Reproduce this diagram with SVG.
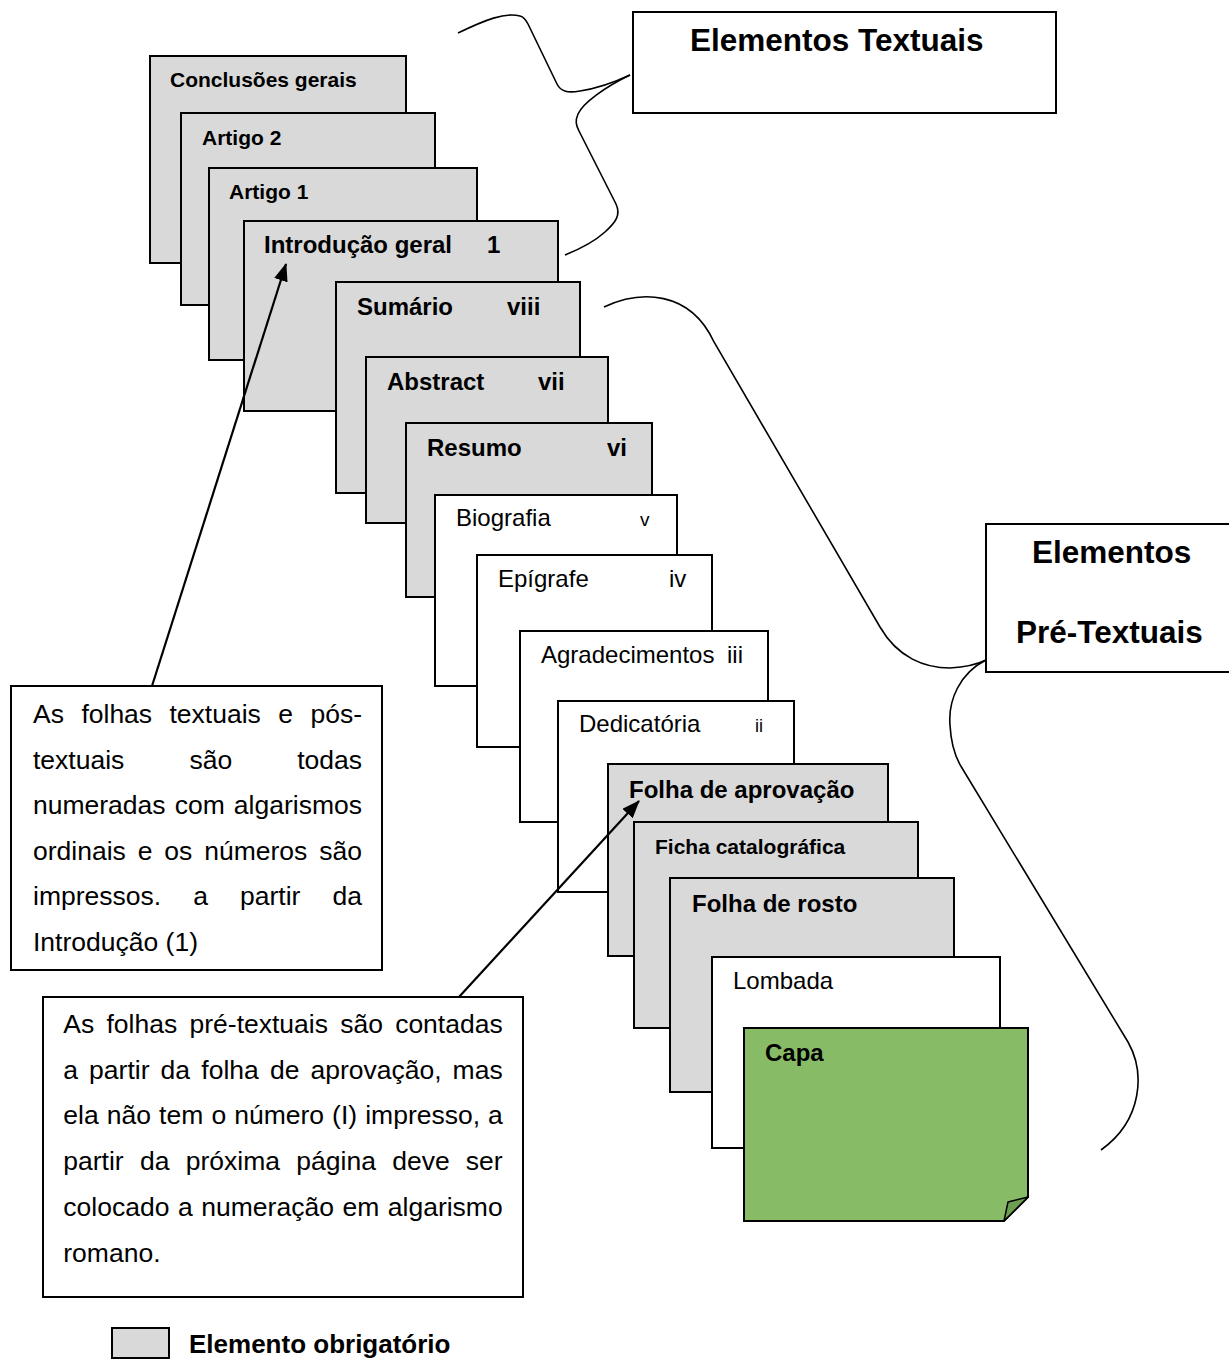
<svg xmlns="http://www.w3.org/2000/svg" width="1229" height="1359" viewBox="0 0 1229 1359">
<style>
text{font-family:"Liberation Sans",Arial,sans-serif;fill:#000}
.pg{stroke:#000;stroke-width:2}
.g{fill:#d9d9d9}
.w{fill:#fff}
.b{font-weight:bold}
.s21{font-size:21px}
.s24{font-size:24px}
.s26{font-size:26.5px}
.h{font-size:31.5px;font-weight:bold}
.br{fill:none;stroke:#000;stroke-width:1.6}
.ar{fill:none;stroke:#000;stroke-width:2.2}
</style>
<defs>
<marker id="ah" markerUnits="userSpaceOnUse" markerWidth="18" markerHeight="14" refX="17" refY="7" orient="auto">
<path d="M0,0 L18,7 L0,14 z" fill="#000"/>
</marker>
</defs>
<rect width="1229" height="1359" fill="#fff"/>

<g id="conclusoes"><rect class="pg g" x="150" y="56" width="256" height="207"/><text class="b s21" x="170" y="87">Conclusões gerais</text></g>
<g id="artigo2"><rect class="pg g" x="181" y="113" width="254" height="192"/><text class="b s21" x="202" y="145">Artigo 2</text></g>
<g id="artigo1"><rect class="pg g" x="209" y="168" width="268" height="192"/><text class="b s21" x="229" y="199">Artigo 1</text></g>
<g id="introducao"><rect class="pg g" x="244" y="221" width="314" height="190"/><text class="b s24" x="264" y="253">Introdução geral</text><text class="b s24" x="487" y="253">1</text></g>
<g id="sumario"><rect class="pg g" x="336" y="282" width="244" height="211"/><text class="b s24" x="357" y="315">Sumário</text><text class="b s24" x="507" y="315">viii</text></g>
<g id="abstract"><rect class="pg g" x="366" y="357" width="242" height="166"/><text class="b s24" x="387" y="390">Abstract</text><text class="b s24" x="538" y="390">vii</text></g>
<g id="resumo"><rect class="pg g" x="406" y="423" width="246" height="174"/><text class="b s24" x="427" y="456">Resumo</text><text class="b s24" x="607" y="456">vi</text></g>
<g id="biografia"><rect class="pg w" x="435" y="495" width="242" height="191"/><text class="s24" x="456" y="526">Biografia</text><text x="640" y="526" style="font-size:19px">v</text></g>
<g id="epigrafe"><rect class="pg w" x="477" y="555" width="235" height="192"/><text class="s24" x="498" y="587">Epígrafe</text><text class="s24" x="669" y="587">iv</text></g>
<g id="agradecimentos"><rect class="pg w" x="520" y="631" width="248" height="191"/><text class="s24" x="541" y="663">Agradecimentos</text><text class="s24" x="727" y="663">iii</text></g>
<g id="dedicatoria"><rect class="pg w" x="558" y="701" width="236" height="191"/><text class="s24" x="579" y="732">Dedicatória</text><text x="755" y="732" style="font-size:18px">ii</text></g>
<g id="aprovacao"><rect class="pg g" x="608" y="764" width="280" height="192"/><text class="b s24" x="629" y="798">Folha de aprovação</text></g>
<g id="ficha"><rect class="pg g" x="634" y="822" width="284" height="206"/><text class="b s21" x="655" y="854">Ficha catalográfica</text></g>
<g id="rosto"><rect class="pg g" x="670" y="878" width="284" height="214"/><text class="b s24" x="692" y="912">Folha de rosto</text></g>
<g id="lombada"><rect class="pg w" x="712" y="957" width="288" height="191"/><text class="s24" x="733" y="989">Lombada</text></g>
<g id="capa"><path class="pg" fill="#87bb66" d="M744,1028 H1028 V1197 L1004,1221 H744 Z"/><path d="M1028,1197 L1008,1202 L1004,1221 Z" fill="#6e9e52" stroke="#000" stroke-width="1.5" stroke-linejoin="round"/><text class="b s24" x="765" y="1061">Capa</text></g>

<g id="elementos-textuais"><rect class="pg w" x="633" y="12" width="423" height="101"/><text class="h" x="690" y="51">Elementos Textuais</text></g>
<g id="elementos-pretextuais"><rect class="pg w" x="986" y="524" width="260" height="148"/><text class="h" x="1032" y="563">Elementos</text><text class="h" x="1016" y="643">Pré-Textuais</text></g>

<g id="nota-textuais"><rect class="pg w" x="11" y="686" width="371" height="284"/>
<g class="s26">
<text x="33" y="723">As</text><text x="81.4" y="723">folhas</text><text x="169.5" y="723">textuais</text><text x="278.3" y="723">e</text><text x="362" y="723" text-anchor="end">pós-</text>
<text x="33" y="769">textuais</text><text x="189.4" y="769">são</text><text x="362" y="769" text-anchor="end">todas</text>
<text x="33" y="814">numeradas</text><text x="174.7" y="814">com</text><text x="362" y="814" text-anchor="end">algarismos</text>
<text x="33" y="860">ordinais</text><text x="137.7" y="860">e</text><text x="164.3" y="860">os</text><text x="204.2" y="860">números</text><text x="362" y="860" text-anchor="end">são</text>
<text x="33" y="905">impressos.</text><text x="193.2" y="905">a</text><text x="240" y="905">partir</text><text x="362" y="905" text-anchor="end">da</text>
<text x="33" y="951">Introdução (1)</text>
</g></g>

<g id="nota-pretextuais"><rect class="pg w" x="43" y="997" width="480" height="300"/>
<g class="s26">
<text x="63.3" y="1033">As</text><text x="106.5" y="1033">folhas</text><text x="189.5" y="1033">pré-textuais</text><text x="340.2" y="1033">são</text><text x="502.7" y="1033" text-anchor="end">contadas</text>
<text x="63.3" y="1079">a</text><text x="89.1" y="1079">partir</text><text x="160.6" y="1079">da</text><text x="201.3" y="1079">folha</text><text x="269.9" y="1079">de</text><text x="310.5" y="1079">aprovação,</text><text x="502.7" y="1079" text-anchor="end">mas</text>
<text x="63.3" y="1124">ela</text><text x="106.8" y="1124">não</text><text x="159.1" y="1124">tem</text><text x="211.4" y="1124">o</text><text x="234.2" y="1124">número</text><text x="332.1" y="1124">(I)</text><text x="365.2" y="1124">impresso,</text><text x="502.7" y="1124" text-anchor="end">a</text>
<text x="63.3" y="1170">partir</text><text x="140" y="1170">da</text><text x="185.8" y="1170">próxima</text><text x="296.3" y="1170">página</text><text x="392.2" y="1170">deve</text><text x="502.7" y="1170" text-anchor="end">ser</text>
<text x="63.3" y="1216">colocado</text><text x="178" y="1216">a</text><text x="201.3" y="1216">numeração</text><text x="342.5" y="1216">em</text><text x="502.7" y="1216" text-anchor="end">algarismo</text>
<text x="63.3" y="1262">romano.</text>
</g></g>

<g id="legenda"><rect class="pg g" x="112" y="1328" width="57" height="30" stroke-width="1.5"/><text class="b" x="189" y="1353" style="font-size:26px">Elemento obrigatório</text></g>

<g id="connectors">
<path class="br" d="M458,33 C485,20 505,12 520,16 C524,17 526,20 528,24 L557,84 C561,92 568,93 580,91 C600,88 615,82 630,75"/>
<path class="br" d="M630,75 C605,87 583,103 578,114 C575,121 576,125 579,131 L616,204 C621,215 616,222 605,232 C595,241 580,249 565,255"/>
<path class="br" d="M604,307 C640,290 690,290 714,342 L880,627 C898,658 925,668 950,668 C968,667 978,664 986,660"/>
<path class="br" d="M986,660 C960,673 948,700 950,725 C951,745 955,757 962,768 L1128,1042 C1145,1072 1143,1120 1101,1150"/>
<line class="ar" x1="152" y1="686" x2="286" y2="264" marker-end="url(#ah)"/>
<line class="ar" x1="459" y1="997" x2="639" y2="801" marker-end="url(#ah)"/>
</g>
</svg>
